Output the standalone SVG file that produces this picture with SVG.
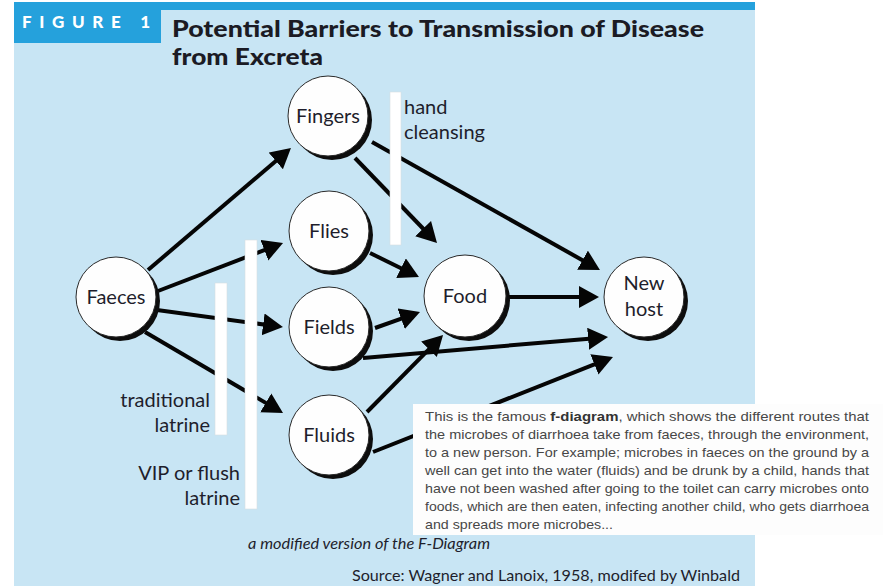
<svg xmlns="http://www.w3.org/2000/svg" width="883" height="586" viewBox="0 0 883 586">
  <style>
    .bg { fill: #c8e5f4; }
    .band { fill: #25a1dc; }
    .title { font-family: Lato, "Liberation Sans", sans-serif; font-weight: 900; font-size: 22px; fill: #1b1b24; }
    .fig { font-family: Lato, "Liberation Sans", sans-serif; font-weight: 900; font-size: 17px; fill: #ffffff; }
    .shadow { fill: #0d0d0d; }
    .disc { fill: #fefefe; stroke: #2a2a2a; stroke-width: 1; }
    .lbl { font-family: Lato, "Liberation Sans", sans-serif; font-size: 20px; fill: #1e1e2c; text-anchor: middle; }
    .side { font-family: Lato, "Liberation Sans", sans-serif; font-size: 20px; fill: #1e1e2c; }
    .bar { fill: #ffffff; stroke: #d8dde2; stroke-width: 0.6; }
    .edge { stroke: #050505; stroke-width: 4; fill: none; marker-end: url(#head); }
    .note { font-family: "Liberation Sans", Arial, sans-serif; font-size: 13.5px; fill: #474747; }
    .cap { font-family: Lato, "Liberation Sans", sans-serif; fill: #1e1e2c; }
  </style>
  <defs>
    <marker id="head" markerUnits="userSpaceOnUse" markerWidth="22" markerHeight="24" refX="4" refY="11" orient="auto">
      <path d="M0,0 L20,11 L0,22 Z" fill="#050505"/>
    </marker>
    <filter id="soft" x="-2%" y="-5%" width="104%" height="110%">
      <feGaussianBlur stdDeviation="0.6"/>
    </filter>
  </defs>

  <!-- panel background -->
  <rect class="bg" x="14" y="2" width="741" height="584"/>
  <rect class="band" x="14" y="2" width="741" height="8"/>
  <rect class="band" x="14" y="2" width="147" height="41"/>
  <text class="fig" x="22" y="28" textLength="128" lengthAdjust="spacing">FIGURE 1</text>
  <text class="title" x="172" y="37" textLength="532" lengthAdjust="spacingAndGlyphs">Potential Barriers to Transmission of Disease</text>
  <text class="title" x="172" y="65" textLength="151" lengthAdjust="spacingAndGlyphs">from Excreta</text>

  <!-- transmission routes -->
  <g id="connectors">
    <line class="edge" x1="148" y1="270" x2="278.8" y2="158.4"/>
    <line class="edge" x1="158" y1="291" x2="268.1" y2="248.7"/>
    <line class="edge" x1="157" y1="310" x2="267.1" y2="324.9"/>
    <line class="edge" x1="145" y1="332" x2="269.2" y2="404.9"/>
    <line class="edge" x1="355" y1="158" x2="425.9" y2="231.5"/>
    <line class="edge" x1="372" y1="142" x2="586" y2="262.2"/>
    <line class="edge" x1="370" y1="253" x2="404.6" y2="270"/>
    <line class="edge" x1="375" y1="328" x2="404.9" y2="317.4"/>
    <line class="edge" x1="363" y1="358" x2="592.1" y2="338.4"/>
    <line class="edge" x1="367" y1="412" x2="431.8" y2="346.4"/>
    <line class="edge" x1="373" y1="452" x2="598.1" y2="362.9"/>
    <line class="edge" x1="507" y1="297" x2="583" y2="297"/>
  </g>

  <!-- barriers -->
  <g id="barrier-hand">
    <rect class="bar" x="390" y="92" width="11" height="153"/>
    <text class="side" x="404" y="114">hand</text>
    <text class="side" x="404" y="139">cleansing</text>
  </g>
  <g id="barrier-traditional">
    <rect class="bar" x="215" y="283" width="12" height="152"/>
    <text class="side" x="210" y="407" text-anchor="end">traditional</text>
    <text class="side" x="210" y="432" text-anchor="end">latrine</text>
  </g>
  <g id="barrier-vip">
    <rect class="bar" x="245" y="240" width="12" height="269"/>
    <text class="side" x="240" y="480" text-anchor="end">VIP or flush</text>
    <text class="side" x="240" y="505" text-anchor="end">latrine</text>
  </g>

  <!-- nodes -->
  <g id="faeces">
    <circle class="shadow" cx="120" cy="301" r="40"/>
    <circle class="disc" cx="116" cy="297" r="40"/>
    <text class="lbl" x="116" y="304">Faeces</text>
  </g>
  <g id="fingers">
    <circle class="shadow" cx="332" cy="120" r="40"/>
    <circle class="disc" cx="328" cy="116" r="40"/>
    <text class="lbl" x="328" y="123">Fingers</text>
  </g>
  <g id="flies">
    <circle class="shadow" cx="333" cy="235" r="40"/>
    <circle class="disc" cx="329" cy="231" r="40"/>
    <text class="lbl" x="329" y="238">Flies</text>
  </g>
  <g id="fields">
    <circle class="shadow" cx="333" cy="331" r="40"/>
    <circle class="disc" cx="329" cy="327" r="40"/>
    <text class="lbl" x="329" y="334">Fields</text>
  </g>
  <g id="fluids">
    <circle class="shadow" cx="333" cy="439" r="40"/>
    <circle class="disc" cx="329" cy="435" r="40"/>
    <text class="lbl" x="329" y="442">Fluids</text>
  </g>
  <g id="food">
    <circle class="shadow" cx="469" cy="300" r="41"/>
    <circle class="disc" cx="465" cy="296" r="41"/>
    <text class="lbl" x="465" y="303">Food</text>
  </g>
  <g id="new-host">
    <circle class="shadow" cx="648" cy="301" r="40"/>
    <circle class="disc" cx="644" cy="297" r="40"/>
    <text class="lbl" x="644" y="290">New</text>
    <text class="lbl" x="644" y="316">host</text>
  </g>

  <!-- captions -->
  <text class="cap" x="248" y="549" font-size="15" font-style="italic" textLength="242" lengthAdjust="spacingAndGlyphs">a modified version of the F-Diagram</text>
  <text class="cap" x="352" y="581" font-size="16" textLength="388" lengthAdjust="spacingAndGlyphs">Source: Wagner and Lanoix, 1958, modifed by Winbald</text>

  <!-- explanatory note -->
  <g id="note">
    <rect x="413" y="404" width="470" height="131" fill="#fdfdfd" filter="url(#soft)"/>
    <g class="note">
      <text x="425" y="421" textLength="444" lengthAdjust="spacingAndGlyphs">This is the famous <tspan font-weight="700" fill="#333">f-diagram</tspan>, which shows the different routes that</text>
      <text x="425" y="439" textLength="444" lengthAdjust="spacingAndGlyphs">the microbes of diarrhoea take from faeces, through the environment,</text>
      <text x="425" y="457" textLength="444" lengthAdjust="spacingAndGlyphs">to a new person. For example; microbes in faeces on the ground by a</text>
      <text x="425" y="475" textLength="444" lengthAdjust="spacingAndGlyphs">well can get into the water (fluids) and be drunk by a child, hands that</text>
      <text x="425" y="493" textLength="444" lengthAdjust="spacingAndGlyphs">have not been washed after going to the toilet can carry microbes onto</text>
      <text x="425" y="511" textLength="444" lengthAdjust="spacingAndGlyphs">foods, which are then eaten, infecting another child, who gets diarrhoea</text>
      <text x="425" y="529" textLength="188" lengthAdjust="spacingAndGlyphs">and spreads more microbes...</text>
    </g>
  </g>
</svg>
